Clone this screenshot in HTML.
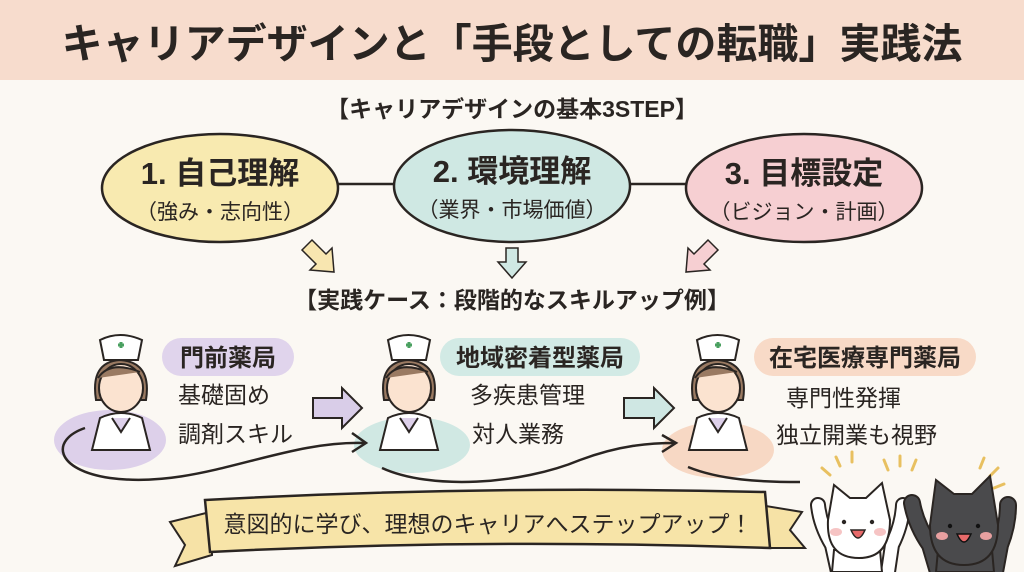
<!DOCTYPE html>
<html><head><meta charset="utf-8"><style>
html,body{margin:0;padding:0;background:#fbf8f3;}
svg{display:block}
text{font-family:"Liberation Sans","Noto Sans CJK JP",sans-serif;fill:#2a2522;}
</style></head><body>
<svg width="1024" height="572" viewBox="0 0 1024 572" xmlns="http://www.w3.org/2000/svg">
<rect width="1024" height="572" fill="#fbf8f3"/>
<rect width="1024" height="80" fill="#f7dccd"/>
<text x="512" y="58" font-size="41" font-weight="bold" text-anchor="middle">キャリアデザインと「手段としての転職」実践法</text>
<text x="512" y="117" font-size="23" font-weight="bold" text-anchor="middle">【キャリアデザインの基本3STEP】</text>
<line x1="330" y1="184" x2="400" y2="184" stroke="#2a2522" stroke-width="2.5"/>
<line x1="620" y1="184" x2="700" y2="184" stroke="#2a2522" stroke-width="2.5"/>
<ellipse cx="220" cy="188" rx="118" ry="54" fill="#f8eab0" stroke="#2a2522" stroke-width="2.5"/>
<ellipse cx="512" cy="186" rx="118" ry="56" fill="#cfe8e3" stroke="#2a2522" stroke-width="2.5"/>
<ellipse cx="804" cy="188" rx="118" ry="54" fill="#f6cfd2" stroke="#2a2522" stroke-width="2.5"/>
<text x="220" y="184" font-size="31" font-weight="bold" text-anchor="middle">1. 自己理解</text>
<text x="220" y="219" font-size="21" text-anchor="middle">（強み・志向性）</text>
<text x="512" y="182" font-size="31" font-weight="bold" text-anchor="middle">2. 環境理解</text>
<text x="512" y="217" font-size="21" text-anchor="middle">（業界・市場価値）</text>
<text x="804" y="184" font-size="31" font-weight="bold" text-anchor="middle">3. 目標設定</text>
<text x="804" y="219" font-size="21" text-anchor="middle">（ビジョン・計画）</text>
<g fill="#f8e6b0" stroke="#2a2522" stroke-width="1.5">
<polygon points="308,248 316,240 330,254 336,248 338,272 314,270 320,264 306,250" transform="translate(-4,0)"/>
<polygon points="506,248 518,248 518,262 526,262 512,278 498,262 506,262" fill="#cfe8e3"/>
<polygon points="716,248 708,240 694,254 688,248 686,272 710,270 704,264 718,250" fill="#f6cfd2"/>
</g>
<text x="512" y="308" font-size="23" font-weight="bold" text-anchor="middle">【実践ケース：段階的なスキルアップ例】</text>
<ellipse cx="110" cy="440" rx="56" ry="30" fill="#ddd0ea"/>
<ellipse cx="412" cy="445" rx="58" ry="28" fill="#d0e8e3"/>
<ellipse cx="718" cy="450" rx="56" ry="28" fill="#f7d8c4"/>
<path d="M85 428 C50 440 55 470 110 478 C200 490 280 440 365 443" fill="none" stroke="#2a2522" stroke-width="2.5"/>
<path d="M352 433 L366 443 L352 452" fill="none" stroke="#2a2522" stroke-width="2.5"/>
<path d="M382 468 C430 490 520 485 580 460 C620 445 650 443 675 443" fill="none" stroke="#2a2522" stroke-width="2.5"/>
<path d="M662 435 L676 443 L662 452" fill="none" stroke="#2a2522" stroke-width="2.5"/>
<path d="M688 467 C720 480 760 482 800 482" fill="none" stroke="#2a2522" stroke-width="2.5"/>
<g id="n1" stroke="#2a2522" stroke-width="2">
<path d="M100 340 Q120 330 142 340 L138 360 L104 360 Z" fill="#fff"/>
<path d="M118 345 h6 M121 342 v6" stroke="#4aa060" stroke-width="3"/>
<path d="M96 400 Q90 362 120 360 Q152 362 146 400 Z" fill="#9a7a62"/>
<ellipse cx="121" cy="388" rx="22" ry="24" fill="#fbe3d0"/>
<path d="M98 378 Q110 360 140 372" fill="#9a7a62"/>
<path d="M92 450 L100 418 Q121 408 142 418 L150 450 Z" fill="#fff"/>
<path d="M112 418 L121 432 L130 418" fill="#ddd0ea"/>
</g>
<use href="#n1" x="288" y="0"/>
<use href="#n1" x="597" y="0"/>
<rect x="162" y="338" width="132" height="38" rx="19" fill="#e0d4ec"/>
<text x="228" y="366" font-size="24" font-weight="bold" text-anchor="middle">門前薬局</text>
<text x="178" y="403" font-size="23">基礎固め</text>
<text x="178" y="442" font-size="23">調剤スキル</text>
<polygon points="313,398 342,398 342,388 362,408 342,428 342,418 313,418" fill="#d9cde8" stroke="#2a2522" stroke-width="2"/>
<rect x="440" y="338" width="200" height="38" rx="19" fill="#d2eae5"/>
<text x="540" y="366" font-size="24" font-weight="bold" text-anchor="middle">地域密着型薬局</text>
<text x="470" y="403" font-size="23">多疾患管理</text>
<text x="472" y="442" font-size="23">対人業務</text>
<polygon points="624,398 654,398 654,388 674,408 654,428 654,418 624,418" fill="#cfe7e3" stroke="#2a2522" stroke-width="2"/>
<rect x="754" y="338" width="222" height="38" rx="19" fill="#f8dac7"/>
<text x="865" y="366" font-size="24" font-weight="bold" text-anchor="middle">在宅医療専門薬局</text>
<text x="786" y="406" font-size="23">専門性発揮</text>
<text x="776" y="443" font-size="23">独立開業も視野</text>
<polygon points="170,522 210,512 212,555 175,566 185,545" fill="#f6e2a6" stroke="#2a2522" stroke-width="2"/>
<polygon points="760,505 802,512 790,530 805,548 765,548" fill="#f6e2a6" stroke="#2a2522" stroke-width="2"/>
<path d="M205 500 Q480 485 765 492 L770 548 Q480 538 210 552 Z" fill="#f7e4a8" stroke="#2a2522" stroke-width="2.5"/>
<text x="488" y="532" font-size="23" text-anchor="middle">意図的に学び、理想のキャリアへステップアップ！</text>
<g stroke="#e8c060" stroke-width="3" stroke-linecap="round">
<line x1="830" y1="475" x2="822" y2="468"/><line x1="840" y1="466" x2="836" y2="457"/><line x1="852" y1="462" x2="852" y2="452"/>
<line x1="888" y1="470" x2="884" y2="460"/><line x1="900" y1="466" x2="900" y2="456"/><line x1="912" y1="470" x2="916" y2="460"/>
<line x1="980" y1="468" x2="984" y2="458"/><line x1="990" y1="476" x2="998" y2="468"/><line x1="994" y1="488" x2="1004" y2="484"/>
</g>
<!-- white cat -->
<g stroke-linecap="round" fill="none">
<path d="M838 572 L832 545 Q820 525 818 505" stroke="#2a2522" stroke-width="16"/>
<path d="M838 572 L832 545 Q820 525 818 505" stroke="#fff" stroke-width="12"/>
<path d="M888 572 L892 545 Q902 525 903 505" stroke="#2a2522" stroke-width="16"/>
<path d="M888 572 L892 545 Q902 525 903 505" stroke="#fff" stroke-width="12"/>
<path d="M938 572 L930 545 Q916 525 912 503" stroke="#2a2522" stroke-width="18"/>
<path d="M938 572 L930 545 Q916 525 912 503" stroke="#4a4a4c" stroke-width="14"/>
<path d="M995 572 L1000 545 Q1008 525 1008 505" stroke="#2a2522" stroke-width="18"/>
<path d="M995 572 L1000 545 Q1008 525 1008 505" stroke="#4a4a4c" stroke-width="14"/>
</g>
<g stroke="#2a2522" stroke-width="2">
<path d="M832 572 L834 550 L880 550 L882 572 Z" fill="#fff"/>
<path d="M828 520 L834 485 L850 498 L866 498 L882 483 L890 520 Q890 558 859 558 Q826 558 828 520 Z" fill="#fff"/>
<path d="M936 572 L938 550 L992 550 L994 572 Z" fill="#4a4a4c"/>
<path d="M930 525 L936 480 L954 494 L972 494 L990 476 L998 525 Q998 565 964 565 Q930 565 930 525 Z" fill="#4a4a4c"/>
</g>
<circle cx="844" cy="522" r="2.2" fill="#2a2522"/><circle cx="872" cy="522" r="2.2" fill="#2a2522"/>
<ellipse cx="836" cy="532" rx="6" ry="4" fill="#f6c4c4"/><ellipse cx="880" cy="532" rx="6" ry="4" fill="#f6c4c4"/>
<path d="M851 530 Q858 546 865 530 Z" fill="#e86a6a" stroke="#2a2522" stroke-width="1.5"/>
<circle cx="950" cy="526" r="2.2" fill="#111"/><circle cx="978" cy="526" r="2.2" fill="#111"/>
<ellipse cx="942" cy="536" rx="6" ry="4" fill="#e8a0a0"/><ellipse cx="986" cy="536" rx="6" ry="4" fill="#e8a0a0"/>
<path d="M957 534 Q964 550 971 534 Z" fill="#e86a6a" stroke="#111" stroke-width="1.5"/>
</svg>
</body></html>
